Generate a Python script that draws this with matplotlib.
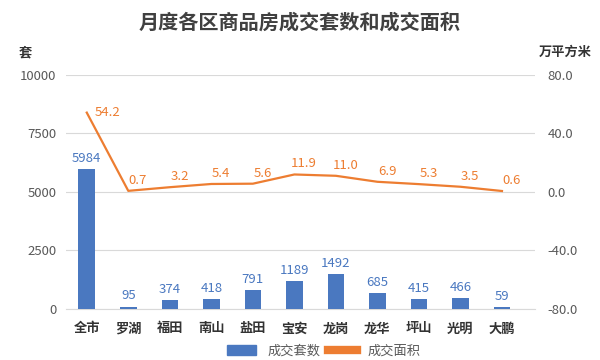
"""月度各区商品房成交套数和成交面积."""

import matplotlib
matplotlib.use("Agg")
import matplotlib.pyplot as plt
from matplotlib.patches import Patch
from matplotlib.lines import Line2D

plt.rcParams["font.family"] = ["Noto Sans CJK SC", "DejaVu Sans"]

distritos = ["全市", "罗湖", "福田", "南山", "盐田", "宝安", "龙岗", "龙华", "坪山", "光明", "大鹏"]
taoshu = [5984, 95, 374, 418, 791, 1189, 1492, 685, 415, 466, 59]
mianji = [54.2, 0.7, 3.2, 5.4, 5.6, 11.9, 11.0, 6.9, 5.3, 3.5, 0.6]
ticks_izq = [0, 2500, 5000, 7500, 10000]
ticks_der = [-80.0, -40.0, 0.0, 40.0, 80.0]

azul = "#4A78C0"
naranja = "#ED7D31"
gris = "#595959"

fig = plt.figure(figsize=(6, 3.6), dpi=100)
ax = fig.add_axes([0.11, 0.142, 0.782, 0.650])
ax2 = ax.twinx()

x = list(range(len(distritos)))
ax.bar(x, taoshu, width=0.4, color=azul, zorder=3)
for i, v in zip(x, taoshu):
    ax.annotate(str(v), (i, v), xytext=(0, 3), textcoords="offset points",
                ha="center", va="bottom", color=azul, fontsize=9.5)

ax2.plot(x, mianji, color=naranja, lw=1.6, zorder=4)
for i, v in zip(x, mianji):
    if i == 0:
        off, ha, va = (6, 0), "left", "center"
    else:
        off, ha, va = (7, 3), "center", "bottom"
    ax2.annotate(f"{v:.1f}", (i, v), xytext=off, textcoords="offset points",
                 ha=ha, va=va, color=naranja, fontsize=9.5)

ax.set_xlim(-0.5, 10.8)
ax.set_ylim(0, 10000)
ax.set_yticks(ticks_izq)
ax.set_yticklabels([str(t) for t in ticks_izq])
ax2.set_ylim(-80, 80)
ax2.set_yticks(ticks_der)
ax2.set_yticklabels([f"{t:.1f}" for t in ticks_der])

ax.yaxis.grid(True, color="#D9D9D9", lw=0.8, zorder=0)
ax.set_axisbelow(True)
for a in (ax, ax2):
    for s in a.spines.values():
        s.set_visible(False)
    a.tick_params(length=0, colors=gris, labelsize=9.5)
ax.spines["bottom"].set_visible(True)
ax.spines["bottom"].set_color("#D9D9D9")
ax.set_xticks(x)
ax.set_xticklabels(distritos, fontsize=9.5, color="#333333", fontweight="bold")
ax.tick_params(axis="x", pad=9)
ax.tick_params(axis="y", pad=7)
ax2.tick_params(axis="y", pad=9)

fig.text(0.5, 0.938, "月度各区商品房成交套数和成交面积", ha="center", va="center",
         fontsize=14.5, fontweight="bold", color="#404040")
fig.text(0.043, 0.853, "套", ha="center", va="center", fontsize=9.5,
         fontweight="bold", color="#333333")
fig.text(0.942, 0.855, "万平方米", ha="center", va="center", fontsize=9.5,
         fontweight="bold", color="#333333")

handles = [Patch(color=azul), Line2D([0], [0], color=naranja, lw=6)]
fig.legend(handles, ["成交套数", "成交面积"], loc="center", bbox_to_anchor=(0.54, 0.025),
           ncol=2, frameon=False, fontsize=9.5, handlelength=2.2, columnspacing=0.6,
           labelcolor=gris)

fig.savefig("out.png", dpi=100)
